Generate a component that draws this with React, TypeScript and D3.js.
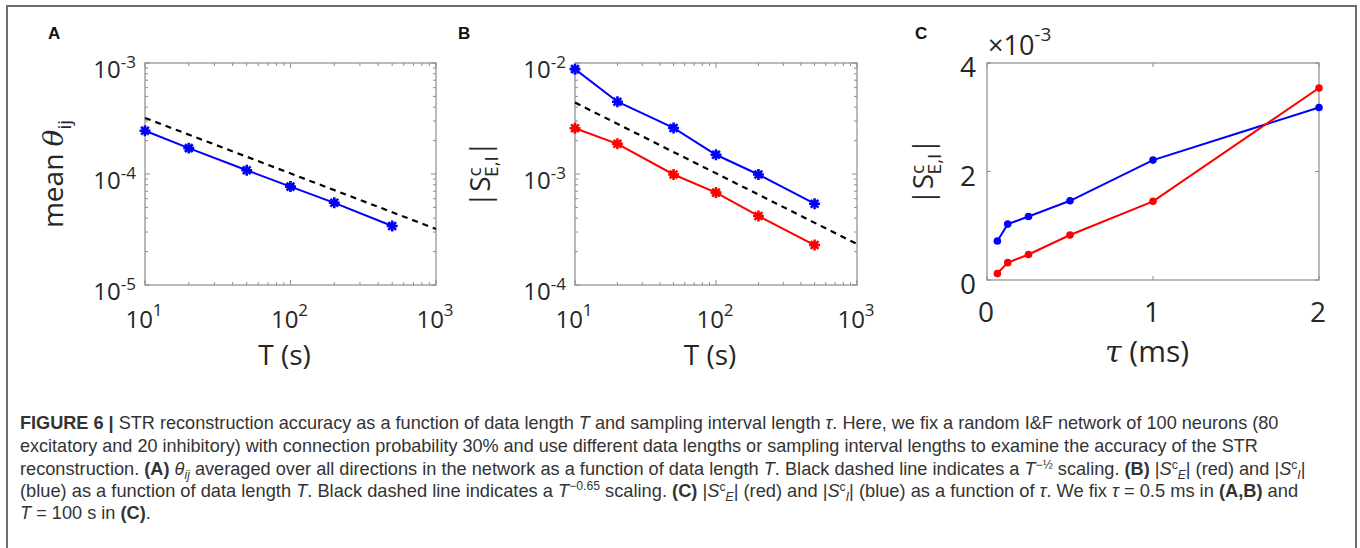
import React, { useLayoutEffect, useRef } from "react";
import * as d3 from "d3";

// ---------- data ----------
const T_VALUES = [10, 20, 50, 100, 200, 500];
const MEAN_THETA = [2.45e-4, 1.71e-4, 1.08e-4, 7.7e-5, 5.5e-5, 3.4e-5];
const REF_T = [10, 1000];
const REF_A = [3.2e-4, 3.2e-5];
const S_I_T = [8.8e-3, 4.48e-3, 2.6e-3, 1.49e-3, 9.9e-4, 5.4e-4];
const S_E_T = [2.58e-3, 1.87e-3, 9.9e-4, 6.8e-4, 4.19e-4, 2.29e-4];
const REF_B = [4.4e-3, 2.34e-4];
const TAU_MS = [0.0625, 0.125, 0.25, 0.5, 1, 2];
const S_I_TAU = [0.72, 1.03, 1.17, 1.46, 2.21, 3.18]; // x 1e-3
const S_E_TAU = [0.12, 0.32, 0.47, 0.83, 1.45, 3.54]; // x 1e-3

const X_LOG_DOMAIN = [10, 1000];
const A_Y_DOMAIN = [1e-5, 1e-3];
const B_Y_DOMAIN = [1e-4, 1e-2];
const C_X_TICKS = [0, 1, 2];
const C_Y_TICKS = [0, 2, 4];

const FONT = "'Open Sans', 'DejaVu Sans', sans-serif";
const CAP_FONT = "'Liberation Sans Narrow', 'Liberation Sans', Arial, sans-serif";
const TXT = "#262626";
const AXIS = "#8c8c8c";
const BLUE = "#0000ff";
const RED = "#ff0000";

const star8 = {
  draw(ctx: any, size: number) {
    const r = Math.sqrt(size) / 2;
    for (let k = 0; k < 4; k++) {
      const a = (k * Math.PI) / 4;
      ctx.moveTo(r * Math.cos(a), r * Math.sin(a));
      ctx.lineTo(-r * Math.cos(a), -r * Math.sin(a));
    }
  },
};
const starPath = d3.symbol().type(star8 as any).size(120)() as string;

const isPow10 = (v: number) => Math.abs(Math.log10(v) - Math.round(Math.log10(v))) < 1e-9;

function Pow({ x, y, anchor, exp, fs = 24, sfs = 17, up = 11 }: any) {
  return (
    <text x={x} y={y} textAnchor={anchor} fontSize={fs} fill={TXT} fontFamily={FONT}>
      <tspan>10</tspan>
      <tspan fontSize={sfs} dy={-up}>{exp}</tspan>
    </text>
  );
}

function LogPanel({ left, right, top, bottom, yDomain, series, refY, yLabel, labelX }: any) {
  const x = d3.scaleLog().domain(X_LOG_DOMAIN).range([left, right]);
  const y = d3.scaleLog().domain(yDomain).range([bottom, top]);
  const xt = x.ticks();
  const yt = y.ticks();
  const line = (xs: number[], ys: number[]) =>
    d3.line<number>().x((_, i) => x(xs[i])).y((d) => y(d))(ys) as string;
  return (
    <g>
      {xt.map((v, i) => {
        const L = isPow10(v) ? 5 : 3;
        return (
          <g key={"xt" + i} stroke={AXIS} strokeWidth={1}>
            <line x1={x(v)} x2={x(v)} y1={bottom} y2={bottom - L} />
            <line x1={x(v)} x2={x(v)} y1={top} y2={top + L} />
          </g>
        );
      })}
      {yt.map((v, i) => {
        const L = isPow10(v) ? 5 : 3;
        return (
          <g key={"yt" + i} stroke={AXIS} strokeWidth={1}>
            <line x1={left} x2={left + L} y1={y(v)} y2={y(v)} />
            <line x1={right} x2={right - L} y1={y(v)} y2={y(v)} />
          </g>
        );
      })}
      <rect x={left} y={top} width={right - left} height={bottom - top} fill="none" stroke={AXIS} strokeWidth={1.2} />
      {xt.filter(isPow10).map((v, i) => (
        <Pow key={"xl" + i} x={x(v) - 1} y={bottom + 43} anchor="middle" exp={String(Math.round(Math.log10(v)))} up={12} />
      ))}
      {yt.filter(isPow10).map((v, i) => (
        <Pow key={"yl" + i} x={left - 9} y={y(v) + 15} anchor="end" exp={String(Math.round(Math.log10(v)))} up={10} />
      ))}
      <text x={(left + right) / 2 - 6} y={365} textAnchor="middle" fontSize={28} fill={TXT} fontFamily={FONT}>
        T (s)
      </text>
      <path d={line(REF_T, refY)} fill="none" stroke="#000" strokeWidth={2.2} strokeDasharray="6,5" />
      {series.map((s: any, si: number) => (
        <g key={"s" + si}>
          <path d={line(T_VALUES, s.values)} fill="none" stroke={s.color} strokeWidth={2} />
          {s.values.map((v: number, i: number) => (
            <path key={i} d={starPath} transform={`translate(${x(T_VALUES[i])},${y(v)})`} fill="none" stroke={s.color} strokeWidth={2.6} />
          ))}
        </g>
      ))}
      <g transform={`translate(${labelX},${(top + bottom) / 2}) rotate(-90)`}>{yLabel}</g>
    </g>
  );
}

function SLabel() {
  return (
    <text textAnchor="middle" fontSize={28} fill={TXT} fontFamily={FONT}>
      <tspan>|S</tspan>
      <tspan fontSize={19} dy={-9}>c</tspan>
      <tspan fontSize={19} dx={-9.5} dy={17}>E,I</tspan>
      <tspan dy={-8}>|</tspan>
    </text>
  );
}

function PanelC() {
  const left = 987, right = 1319, top = 63, bottom = 280;
  const x = d3.scaleLinear().domain([0, 2]).range([left, right]);
  const y = d3.scaleLinear().domain([0, 4]).range([bottom, top]);
  const line = (ys: number[]) => d3.line<number>().x((_, i) => x(TAU_MS[i])).y((d) => y(d))(ys) as string;
  const series = [
    { values: S_I_TAU, color: BLUE },
    { values: S_E_TAU, color: RED },
  ];
  return (
    <g>
      {C_X_TICKS.map((v) => (
        <g key={"cx" + v} stroke={AXIS}>
          <line x1={x(v)} x2={x(v)} y1={bottom} y2={bottom - 4} />
          <line x1={x(v)} x2={x(v)} y1={top} y2={top + 4} />
        </g>
      ))}
      {C_Y_TICKS.map((v) => (
        <g key={"cy" + v} stroke={AXIS}>
          <line x1={left} x2={left + 4} y1={y(v)} y2={y(v)} />
          <line x1={right} x2={right - 4} y1={y(v)} y2={y(v)} />
        </g>
      ))}
      <rect x={left} y={top} width={right - left} height={bottom - top} fill="none" stroke={AXIS} strokeWidth={1.2} />
      {C_X_TICKS.map((v) => (
        <text key={"cxl" + v} x={x(v) - 1} y={bottom + 42} textAnchor="middle" fontSize={28} fill={TXT} fontFamily={FONT}>
          {v}
        </text>
      ))}
      {C_Y_TICKS.map((v) => (
        <text key={"cyl" + v} x={left - 11} y={y(v) + 14} textAnchor="end" fontSize={28} fill={TXT} fontFamily={FONT}>
          {v}
        </text>
      ))}
      <text x={988} y={55} fontSize={27} fill={TXT} fontFamily={FONT}>
        <tspan>×10</tspan>
        <tspan fontSize={19} dy={-14}>-3</tspan>
      </text>
      <text x={(left + right) / 2 - 6} y={362} textAnchor="middle" fontSize={30} fill={TXT} fontFamily={FONT}>
        <tspan fontStyle="italic" fontFamily="'DejaVu Serif', serif">τ</tspan>
        <tspan> (ms)</tspan>
      </text>
      {series.map((s, si) => (
        <g key={"cs" + si}>
          <path d={line(s.values)} fill="none" stroke={s.color} strokeWidth={2} />
          {s.values.map((v, i) => (
            <circle key={i} cx={x(TAU_MS[i])} cy={y(v)} r={3.8} fill={s.color} />
          ))}
        </g>
      ))}
      <g transform={`translate(933,${(top + bottom) / 2}) rotate(-90)`}>
        <SLabel />
      </g>
    </g>
  );
}

// caption helpers
const B = (t: string) => <tspan fontWeight="bold">{t}</tspan>;
const I = (t: string) => <tspan fontStyle="italic">{t}</tspan>;
const SEI = (sub: string) => (
  <>
    <tspan>|</tspan>
    <tspan fontStyle="italic">S</tspan>
    <tspan fontSize={12} dy={-6}>c</tspan>
    <tspan fontSize={12} fontStyle="italic" dy={10}>{sub}</tspan>
    <tspan dy={-4}>|</tspan>
  </>
);

const CAP_X = 20;
const CAP_LINES = [
  { y: 429, w: 1260 },
  { y: 452, w: 1239 },
  { y: 475, w: 1287 },
  { y: 497, w: 1279 },
  { y: 519, w: 0 },
];

export default function App() {
  const svgRef = useRef<SVGSVGElement>(null);
  useLayoutEffect(() => {
    const svg = svgRef.current;
    if (!svg) return;
    const nodes = Array.from(svg.querySelectorAll("text.cap")) as SVGTextElement[];
    nodes.forEach((n) => n.removeAttribute("transform"));
    const ks: number[] = [];
    nodes.forEach((n) => {
      const target = +(n.getAttribute("data-w") || 0);
      const w = n.getBBox().width;
      if (target > 0 && w > 0) ks.push(target / w);
    });
    const avg = ks.length ? d3.mean(ks)! : 1;
    nodes.forEach((n) => {
      const target = +(n.getAttribute("data-w") || 0);
      const w = n.getBBox().width;
      const k = target > 0 && w > 0 ? target / w : avg;
      n.setAttribute("transform", `translate(${CAP_X},0) scale(${k},1) translate(${-CAP_X},0)`);
    });
  });

  const capProps = (i: number) => ({
    className: "cap",
    x: CAP_X,
    y: CAP_LINES[i].y,
    "data-w": CAP_LINES[i].w,
    fontSize: 18,
    fill: "#333",
    fontFamily: CAP_FONT,
  });

  return (
    <svg ref={svgRef} width={1360} height={548} style={{ position: "absolute", left: 0, top: 0, background: "#fff" }}>
      <rect x={7} y={6} width={1349} height={600} fill="none" stroke="#6e6e6e" strokeWidth={2} />
      <text x={48} y={39} fontSize={17} fontWeight="bold" fontFamily="'Liberation Sans', Arial, sans-serif" fill="#111">A</text>
      <text x={458} y={39} fontSize={17} fontWeight="bold" fontFamily="'Liberation Sans', Arial, sans-serif" fill="#111">B</text>
      <text x={915} y={39} fontSize={17} fontWeight="bold" fontFamily="'Liberation Sans', Arial, sans-serif" fill="#111">C</text>

      <LogPanel
        left={145}
        right={436}
        top={63}
        bottom={285}
        yDomain={A_Y_DOMAIN}
        refY={REF_A}
        labelX={63}
        series={[{ values: MEAN_THETA, color: BLUE }]}
        yLabel={
          <text textAnchor="middle" fontSize={28} fill={TXT} fontFamily={FONT}>
            <tspan>mean </tspan>
            <tspan fontStyle="italic" fontFamily="'DejaVu Serif', serif">θ</tspan>
            <tspan fontSize={19} dy={8}>ij</tspan>
          </text>
        }
      />
      <LogPanel
        left={575}
        right={857}
        top={63}
        bottom={285}
        yDomain={B_Y_DOMAIN}
        refY={REF_B}
        labelX={490}
        series={[
          { values: S_I_T, color: BLUE },
          { values: S_E_T, color: RED },
        ]}
        yLabel={<SLabel />}
      />
      <PanelC />

      <text {...capProps(0)}>
        {B("FIGURE 6 | ")}
        <tspan>STR reconstruction accuracy as a function of data length </tspan>
        {I("T")}
        <tspan> and sampling interval length </tspan>
        {I("τ")}
        <tspan>. Here, we fix a random I&amp;F network of 100 neurons (80</tspan>
      </text>
      <text {...capProps(1)}>
        excitatory and 20 inhibitory) with connection probability 30% and use different data lengths or sampling interval lengths to examine the accuracy of the STR
      </text>
      <text {...capProps(2)}>
        <tspan>reconstruction. </tspan>
        {B("(A)")}
        <tspan> </tspan>
        {I("θ")}
        <tspan fontSize={12} fontStyle="italic" dy={4}>ij</tspan>
        <tspan dy={-4}> averaged over all directions in the network as a function of data length </tspan>
        {I("T")}
        <tspan>. Black dashed line indicates a </tspan>
        {I("T")}
        <tspan fontSize={12} dy={-6}>−½</tspan>
        <tspan dy={6}> scaling. </tspan>
        {B("(B)")}
        <tspan> </tspan>
        {SEI("E")}
        <tspan> (red) and </tspan>
        {SEI("I")}
      </text>
      <text {...capProps(3)}>
        <tspan>(blue) as a function of data length </tspan>
        {I("T")}
        <tspan>. Black dashed line indicates a </tspan>
        {I("T")}
        <tspan fontSize={12} dy={-7}>−0.65</tspan>
        <tspan dy={7}> scaling. </tspan>
        {B("(C)")}
        <tspan> </tspan>
        {SEI("E")}
        <tspan> (red) and </tspan>
        {SEI("I")}
        <tspan> (blue) as a function of </tspan>
        {I("τ")}
        <tspan>. We fix </tspan>
        {I("τ")}
        <tspan> = 0.5 ms in </tspan>
        {B("(A,B)")}
        <tspan> and</tspan>
      </text>
      <text {...capProps(4)}>
        {I("T")}
        <tspan> = 100 s in </tspan>
        {B("(C)")}
        <tspan>.</tspan>
      </text>
    </svg>
  );
}
